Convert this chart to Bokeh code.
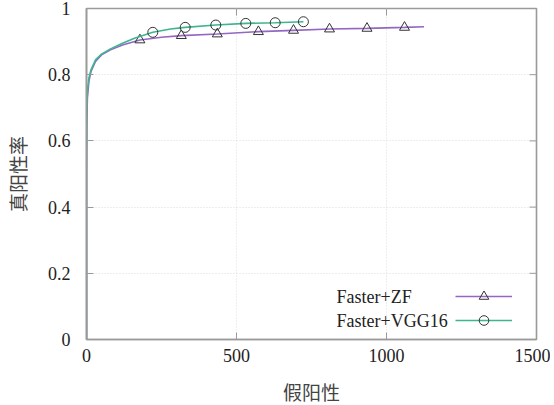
from bokeh.plotting import figure
from bokeh.models import (Range1d, FixedTicker, Legend, LegendItem, Label)
from bokeh.embed import file_html
from bokeh.resources import INLINE

# ---- data ----
zf_x = [0, 0, 1, 3, 8, 15, 30, 50, 80, 120, 178, 250, 316, 436, 573, 690, 810, 935, 1060, 1125]
zf_y = [0, 0.50, 0.65, 0.73, 0.78, 0.81, 0.84, 0.86, 0.875, 0.89, 0.905, 0.913, 0.918, 0.923, 0.930, 0.934, 0.938, 0.940, 0.943, 0.945]
zf_mark_x = [178, 316, 436, 573, 690, 810, 935, 1060]
zf_mark_y = [0.905, 0.918, 0.923, 0.930, 0.934, 0.938, 0.940, 0.943]

vgg_x = [0, 0, 1, 3, 8, 15, 30, 50, 80, 120, 160, 221, 280, 329, 431, 531, 629, 723]
vgg_y = [0, 0.55, 0.70, 0.75, 0.79, 0.815, 0.845, 0.862, 0.878, 0.895, 0.910, 0.928, 0.938, 0.943, 0.950, 0.955, 0.957, 0.960]
vgg_mark_x = [221, 329, 431, 531, 629, 723]
vgg_mark_y = [0.928, 0.943, 0.950, 0.955, 0.957, 0.960]

x_ticks = [0, 500, 1000, 1500]
y_ticks = [0, 0.2, 0.4, 0.6, 0.8, 1.0]
y_tick_labels = {0: "0", 0.2: "0.2", 0.4: "0.4", 0.6: "0.6", 0.8: "0.8", 1.0: "1"}

series_names = ["Faster+ZF", "Faster+VGG16"]
colors = ["#9467c4", "#3db58e"]

SERIF = "Liberation Serif"
CJK = "Noto Sans CJK SC"
FRAME_W, FRAME_H = 450, 331
X0, X1, Y0, Y1 = 0, 1500, 0, 1
TICK_PX = 7
GRAY = "#9a9a9a"

p = figure(frame_width=FRAME_W, frame_height=FRAME_H, output_backend="svg", toolbar_location=None,
           x_range=Range1d(X0, X1), y_range=Range1d(Y0, Y1),
           min_border_left=74, min_border_right=14, min_border_top=8, min_border_bottom=50)
p.background_fill_color = "white"
p.border_fill_color = "white"
p.outline_line_color = GRAY
p.outline_line_width = 1.6

for ax in (p.xaxis[0], p.yaxis[0]):
    ax.major_tick_in = TICK_PX
    ax.major_tick_out = 0
    ax.minor_tick_line_color = None
    ax.axis_line_color = GRAY
    ax.axis_line_width = 1.6
    ax.major_tick_line_color = GRAY
    ax.major_label_text_font = SERIF
    ax.major_label_text_font_size = "18px"
    ax.major_label_text_color = "#222222"
    ax.axis_label_text_font = CJK
    ax.axis_label_text_font_size = "19px"
    ax.axis_label_text_font_style = "normal"
    ax.axis_label_text_color = "#444444"

p.xaxis[0].ticker = FixedTicker(ticks=x_ticks)
p.yaxis[0].ticker = FixedTicker(ticks=y_ticks)
p.yaxis[0].major_label_overrides = y_tick_labels
p.xaxis[0].axis_label = "假阳性"
p.yaxis[0].axis_label = "真阳性率"
p.xaxis[0].major_label_standoff = 9
p.yaxis[0].major_label_standoff = 16
p.xaxis[0].axis_label_standoff = 13
p.yaxis[0].axis_label_standoff = 14

# mirrored inward ticks on top and right (length derived from the scale)
dy = TICK_PX * (Y1 - Y0) / FRAME_H
dx = TICK_PX * (X1 - X0) / FRAME_W
inner_x = x_ticks[1:-1]
inner_y = y_ticks[1:-1]
p.segment(x0=inner_x, y0=[Y1] * len(inner_x), x1=inner_x, y1=[Y1 - dy] * len(inner_x),
          line_color=GRAY, line_width=1)
p.segment(x0=[X1] * len(inner_y), y0=inner_y, x1=[X1 - dx] * len(inner_y), y1=inner_y,
          line_color=GRAY, line_width=1)

p.xgrid.ticker = FixedTicker(ticks=x_ticks)
p.ygrid.ticker = FixedTicker(ticks=y_ticks)
p.grid.grid_line_color = "#dddddd"
p.grid.grid_line_dash = "1 2"
p.grid.grid_line_width = 1

# series
zf_line = p.line(zf_x, zf_y, line_color=colors[0], line_width=1.6)
zf_pts = p.scatter(zf_mark_x, zf_mark_y, marker="triangle", size=10, fill_color=None,
                   line_color="#333333", line_width=1)
vgg_line = p.line(vgg_x, vgg_y, line_color=colors[1], line_width=1.6)
vgg_pts = p.scatter(vgg_mark_x, vgg_mark_y, marker="circle", size=10, fill_color=None,
                    line_color="#333333", line_width=1)

legend = Legend(items=[LegendItem(label="", renderers=[zf_line, zf_pts]),
                       LegendItem(label="", renderers=[vgg_line, vgg_pts])],
                location=(369, 7), padding=0, margin=0, spacing=0,
                glyph_width=57, glyph_height=24, label_width=0, label_standoff=0,
                border_line_color=None, background_fill_alpha=0)
p.add_layout(legend, "center")

for i, name in enumerate(series_names):
    p.add_layout(Label(x=250, y=43 - 24 * i, x_units="screen", y_units="screen", text=name,
                       text_font=SERIF, text_font_size="18px", text_color="#222222",
                       text_align="left", text_baseline="middle"))

open("out.html", "w").write(file_html(p, INLINE))
